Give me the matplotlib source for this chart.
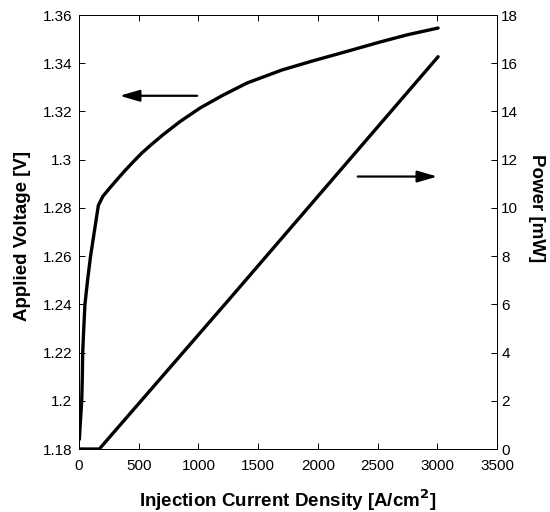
import matplotlib
matplotlib.use("Agg")
import matplotlib.pyplot as plt

plt.rcParams['font.family'] = ['Liberation Sans', 'DejaVu Sans']

# Voltage curve (left axis)
current_v = [3, 10, 18, 23, 28, 31, 40, 50, 72, 97, 128, 162, 200, 250, 316, 380, 452, 525,
             600, 700, 846, 1013, 1200, 1407, 1700, 1960, 2250, 2521, 2750, 3007]
voltage = [1.184, 1.190, 1.196, 1.200, 1.210, 1.220, 1.230, 1.240, 1.250, 1.260, 1.270, 1.281,
           1.2848, 1.2878, 1.2916, 1.2952, 1.2990, 1.3027, 1.3060, 1.3102, 1.3158, 1.3214,
           1.3266, 1.3318, 1.3372, 1.3410, 1.3450, 1.3488, 1.3518, 1.3546]

# Power curve (right axis)
current_p = [0, 170, 1265, 3007]
power = [0.0, 0.0, 6.25, 16.27]

x_ticks = [0, 500, 1000, 1500, 2000, 2500, 3000, 3500]
v_ticks = [1.18, 1.2, 1.22, 1.24, 1.26, 1.28, 1.3, 1.32, 1.34, 1.36]
v_tick_labels = ['1.18', '1.2', '1.22', '1.24', '1.26', '1.28', '1.3', '1.32', '1.34', '1.36']
p_ticks = [0, 2, 4, 6, 8, 10, 12, 14, 16, 18]

fig = plt.figure(figsize=(5.5, 5.12), dpi=100)
ax = fig.add_axes([0.1436, 0.123, 0.76, 0.8477])
ax2 = ax.twinx()

ax.plot(current_v, voltage, color='black', lw=2.4, solid_capstyle='round', solid_joinstyle='round')
ax2.plot(current_p, power, color='black', lw=2.4, solid_capstyle='round', solid_joinstyle='round')

ax.set_xlim(0, 3500)
ax.set_ylim(1.18, 1.36)
ax2.set_ylim(0, 18)

ax.set_xticks(x_ticks)
ax.set_xticklabels([str(t) for t in x_ticks], fontsize=11)
ax.set_yticks(v_ticks)
ax.set_yticklabels(v_tick_labels, fontsize=11)
ax2.set_yticks(p_ticks)
ax2.set_yticklabels([str(t) for t in p_ticks], fontsize=11)

ax.tick_params(axis='x', direction='in', length=4, width=0.7, top=True, pad=7)
ax.tick_params(axis='y', direction='in', length=4, width=0.7, pad=5)
ax2.tick_params(axis='y', direction='in', length=4, width=0.7, pad=3)

for a in (ax, ax2):
    for s in a.spines.values():
        s.set_linewidth(0.7)

fig.text(0.5 * (79 + 497) / 550, 1 - 500 / 512, 'Injection Current Density [A/cm$^{\\mathbf{2}}$]',
         fontsize=13.5, fontweight='bold', ha='center', va='center')
fig.text(23 / 550, 1 - 236 / 512, 'Applied Voltage [V]', fontsize=13.5, fontweight='bold',
         rotation=90, ha='center', va='center')
fig.text(537 / 550, 1 - 208 / 512, 'Power [mW]', fontsize=13.5, fontweight='bold',
         rotation=-90, ha='center', va='center')

ax.annotate('', xy=(318, 1.3265), xytext=(1013, 1.3265),
            arrowprops=dict(arrowstyle='-|>,head_length=1.2,head_width=0.35', color='black', lw=1.6))
ax2.annotate('', xy=(3023, 11.3), xytext=(2311, 11.3),
             arrowprops=dict(arrowstyle='-|>,head_length=1.2,head_width=0.35', color='black', lw=1.6))

fig.savefig('out.png', dpi=100)
